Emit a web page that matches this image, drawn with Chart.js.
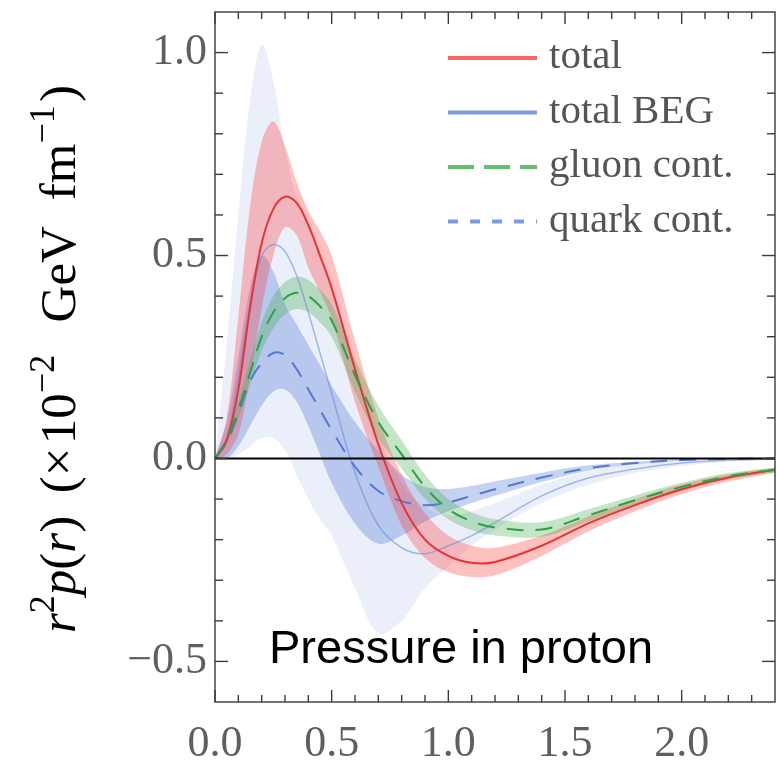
<!DOCTYPE html>
<html>
<head>
<meta charset="utf-8">
<script src="https://cdn.jsdelivr.net/npm/chart.js@4.4.0/dist/chart.umd.min.js"></script>
<style>
  html, body { margin: 0; padding: 0; background: #fff; }
</style>
</head>
<body>
<canvas id="chart" width="776" height="763"></canvas>
<script>
// radius r (fm)
const R = [0, 0.05, 0.1, 0.15, 0.2, 0.25, 0.3, 0.35, 0.4, 0.45, 0.5, 0.6, 0.7, 0.8, 0.9, 1.0, 1.1, 1.2, 1.4, 1.6, 1.8, 2.0, 2.2, 2.4];

// total
const totalMid = [0, 0.045, 0.17, 0.37, 0.53, 0.615, 0.645, 0.63, 0.575, 0.5, 0.42, 0.22, 0.035, -0.11, -0.2, -0.24, -0.257, -0.255, -0.215, -0.16, -0.115, -0.076, -0.047, -0.028];
const totalHi = [0, 0.1, 0.35, 0.62, 0.78, 0.83, 0.77, 0.68, 0.61, 0.56, 0.5, 0.29, 0.1, -0.04, -0.135, -0.19, -0.215, -0.22, -0.19, -0.143, -0.1, -0.064, -0.039, -0.022];
const totalLo = [0, 0.01, 0.06, 0.2, 0.37, 0.5, 0.57, 0.55, 0.47, 0.41, 0.345, 0.14, -0.02, -0.165, -0.245, -0.28, -0.292, -0.288, -0.24, -0.18, -0.13, -0.088, -0.057, -0.035];

// total BEG
const begMid = [0, 0.05, 0.2, 0.38, 0.5, 0.527, 0.51, 0.45, 0.36, 0.26, 0.16, -0.035, -0.165, -0.22, -0.235, -0.215, -0.19, -0.158, -0.092, -0.048, -0.026, -0.011, -0.004, -0.001];
const begHi = [0, 0.28, 0.6, 0.88, 1.02, 0.93, 0.76, 0.64, 0.57, 0.5, 0.43, 0.24, 0.06, -0.06, -0.12, -0.14, -0.13, -0.11, -0.065, -0.032, -0.015, -0.006, -0.002, 0];
const begLo = [0, 0, 0.01, 0.03, 0.05, 0.05, 0.02, -0.04, -0.1, -0.15, -0.19, -0.32, -0.43, -0.4, -0.32, -0.265, -0.215, -0.175, -0.11, -0.065, -0.036, -0.018, -0.008, -0.003];

// gluon contribution
const gluonMid = [0, 0.045, 0.12, 0.21, 0.3, 0.36, 0.395, 0.408, 0.4, 0.375, 0.34, 0.205, 0.09, 0.01, -0.07, -0.125, -0.155, -0.17, -0.175, -0.14, -0.103, -0.07, -0.044, -0.028];
const gluonHi = [0, 0.055, 0.14, 0.24, 0.335, 0.4, 0.435, 0.448, 0.44, 0.415, 0.38, 0.245, 0.13, 0.045, -0.04, -0.1, -0.133, -0.15, -0.157, -0.125, -0.091, -0.06, -0.036, -0.022];
const gluonLo = [0, 0.035, 0.1, 0.18, 0.265, 0.32, 0.355, 0.368, 0.36, 0.335, 0.3, 0.165, 0.05, -0.025, -0.1, -0.15, -0.177, -0.19, -0.193, -0.155, -0.115, -0.08, -0.052, -0.034];

// quark contribution
const quarkMid = [0, 0.04, 0.11, 0.19, 0.235, 0.26, 0.255, 0.22, 0.17, 0.12, 0.07, -0.02, -0.08, -0.105, -0.115, -0.108, -0.092, -0.076, -0.047, -0.024, -0.011, -0.004, -0.001, 0];
const quarkHi = [0, 0.09, 0.25, 0.42, 0.5, 0.46, 0.38, 0.33, 0.28, 0.23, 0.18, 0.09, 0.02, -0.04, -0.07, -0.075, -0.068, -0.056, -0.035, -0.017, -0.008, -0.003, -0.001, 0];
const quarkLo = [0, 0, 0.03, 0.08, 0.13, 0.165, 0.17, 0.14, 0.08, 0.01, -0.06, -0.16, -0.21, -0.19, -0.155, -0.13, -0.11, -0.092, -0.058, -0.03, -0.015, -0.006, -0.002, 0];

// axes
const xTicks = [0, 0.5, 1.0, 1.5, 2.0];
const yTicks = [-0.5, 0, 0.5, 1.0];
const xMinor = [0.1, 0.2, 0.3, 0.4, 0.6, 0.7, 0.8, 0.9, 1.1, 1.2, 1.3, 1.4, 1.6, 1.7, 1.8, 1.9, 2.1, 2.2, 2.3];
const yMinor = [-0.4, -0.3, -0.2, -0.1, 0.1, 0.2, 0.3, 0.4, 0.6, 0.7, 0.8, 0.9];

const legendNames = ['total', 'total BEG', 'gluon cont.', 'quark cont.'];

const pts = arr => arr.map((v, i) => ({ x: R[i], y: v }));

function band(upper, lower, color, order) {
    return [
        { data: pts(lower), borderWidth: 0, pointRadius: 0, fill: false, order: order },
        { data: pts(upper), borderWidth: 0, pointRadius: 0, backgroundColor: color, order: order, fill: '-1' }
    ];
}

function curve(arr, color, width, dash, order) {
    return { data: pts(arr), borderColor: color, borderWidth: width, borderDash: dash, pointRadius: 0, fill: false, order: order };
}

const datasets = [
    ...band(begHi, begLo, 'rgba(110,145,220,0.14)', 20),
    ...band(quarkHi, quarkLo, 'rgba(75,115,210,0.32)', 19),
    ...band(totalHi, totalLo, 'rgba(255,60,60,0.32)', 18),
    ...band(gluonHi, gluonLo, 'rgba(60,170,70,0.30)', 17),
    curve(begMid, 'rgba(100,135,215,0.55)', 1.5, [], 6),
    curve(quarkMid, 'rgb(85,120,215)', 2, [17, 12], 5),
    curve(totalMid, 'rgb(235,50,50)', 2, [], 4),
    curve(gluonMid, 'rgb(45,160,65)', 2, [17, 12], 3),
    { data: [{ x: R[0], y: 0 }, { x: R[R.length - 1], y: 0 }], borderColor: '#000', borderWidth: 2, pointRadius: 0, fill: false, order: 1 }
];

const labelFont = '"Liberation Serif", "Times New Roman", serif';

const decor = {
    id: 'decor',
    afterDraw(chart) {
        const { ctx, chartArea: a, scales: { x, y } } = chart;
        ctx.save();
        // frame and inward ticks
        ctx.strokeStyle = '#3a3a3a';
        ctx.lineWidth = 1.4;
        ctx.strokeRect(a.left, a.top, a.right - a.left, a.bottom - a.top);
        const seg = (x1, y1, x2, y2) => { ctx.beginPath(); ctx.moveTo(x1, y1); ctx.lineTo(x2, y2); ctx.stroke(); };
        xTicks.concat(xMinor).forEach(v => {
            const p = x.getPixelForValue(v);
            const len = xTicks.includes(v) ? 12 : 7;
            seg(p, a.bottom, p, a.bottom - len);
            seg(p, a.top, p, a.top + len);
        });
        yTicks.concat(yMinor).forEach(v => {
            const p = y.getPixelForValue(v);
            const len = yTicks.includes(v) ? 13 : 8;
            seg(a.left, p, a.left + len, p);
            seg(a.right, p, a.right - len, p);
        });

        // legend
        const styles = [
            { c: 'rgb(255,100,100)', d: [] },
            { c: 'rgb(125,155,225)', d: [] },
            { c: 'rgb(100,190,110)', d: [26, 10] },
            { c: 'rgb(125,155,225)', d: [10, 12] }
        ];
        ctx.font = '41px ' + labelFont;
        ctx.textBaseline = 'alphabetic';
        ctx.fillStyle = '#555';
        legendNames.forEach((name, i) => {
            const yy = 58 + i * 54.5;
            ctx.strokeStyle = styles[i].c;
            ctx.lineWidth = 4;
            ctx.setLineDash(styles[i].d);
            seg(448, yy, 537, yy);
            ctx.setLineDash([]);
            ctx.fillText(name, 549, yy + 10);
        });

        // inner title
        ctx.fillStyle = '#000';
        ctx.font = '47px "Liberation Sans", Arial, sans-serif';
        ctx.fillText('Pressure in proton', 269, 663);

        // y-axis title: [text, style, superscript, gap weight before]
        const size = 51;
        const parts = [
            ['r', 'italic', 0, 0], ['2', '', 1, 0], ['p', 'italic', 0, 0], ['(', '', 0, 0], ['r', 'italic', 0, 0], [')', '', 0, 0],
            ['(', '', 0, 0.7], ['×', '', 0, 0], ['10', '', 0, 0.1], ['−2', '', 1, 0], ['GeV', '', 0, 1], ['fm', '', 0, 0.8], ['−1', '', 1, 0], [')', '', 0, 0.1]
        ];
        const fontOf = p => (p[1] ? p[1] + ' ' : '') + Math.round(p[2] ? size * 0.7 : size) + 'px ' + labelFont;
        let glyphs = 0, weights = 0;
        parts.forEach(p => { ctx.font = fontOf(p); glyphs += ctx.measureText(p[0]).width; weights += p[3]; });
        const target = 548;
        const unit = Math.max(0, (target - glyphs) / weights);
        ctx.fillStyle = '#000';
        ctx.translate(75, 359);
        ctx.rotate(-Math.PI / 2);
        let cx = -target / 2;
        parts.forEach(p => {
            cx += p[3] * unit;
            ctx.font = fontOf(p);
            ctx.fillText(p[0], cx, p[2] ? -size * 0.42 : 0);
            cx += ctx.measureText(p[0]).width;
        });
        ctx.restore();
    }
};

const tickFmt = v => (v < 0 ? '−' : '') + Math.abs(v).toFixed(1);

new Chart(document.getElementById('chart'), {
    type: 'line',
    data: { datasets: datasets },
    options: {
        responsive: false,
        animation: false,
        layout: { padding: { top: 12, right: 1, left: 0, bottom: 0 } },
        elements: { line: { tension: 0.35 } },
        plugins: { legend: { display: false }, tooltip: { enabled: false } },
        scales: {
            x: {
                type: 'linear', min: 0, max: 2.4,
                grid: { display: false, drawTicks: false },
                border: { display: false },
                afterBuildTicks: s => { s.ticks = xTicks.map(v => ({ value: v })); },
                afterFit: s => { s.height = 61; s.paddingLeft = 0; s.paddingRight = 0; },
                ticks: { padding: 16, color: '#5f5f5f', font: { family: labelFont, size: 44 }, callback: tickFmt, maxRotation: 0, autoSkip: false }
            },
            y: {
                type: 'linear', min: -0.6, max: 1.1,
                grid: { display: false, drawTicks: false },
                border: { display: false },
                afterBuildTicks: s => { s.ticks = yTicks.map(v => ({ value: v })); },
                afterFit: s => { s.width = 215; s.paddingTop = 0; s.paddingBottom = 0; },
                ticks: { padding: 8, color: '#5f5f5f', font: { family: labelFont, size: 44 }, callback: tickFmt, autoSkip: false }
            }
        }
    },
    plugins: [decor]
});
</script>
</body>
</html>
